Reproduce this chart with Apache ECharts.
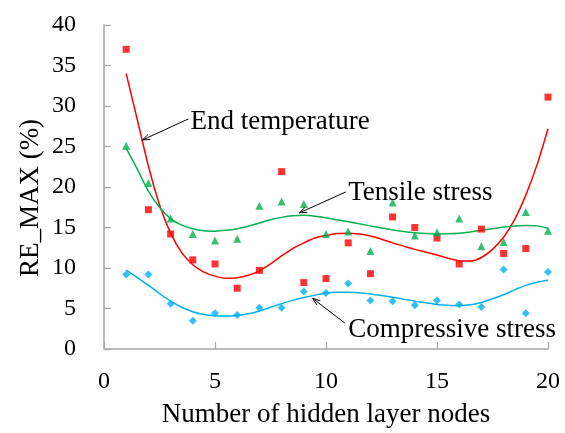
<!DOCTYPE html>
<html>
<head>
<meta charset="utf-8">
<script src="https://cdn.jsdelivr.net/npm/echarts@6/dist/echarts.min.js"></script>
<style>
  html, body { margin: 0; padding: 0; background: #fff; }
  #chart { width: 565px; height: 433px; }
</style>
</head>
<body>
<div id="chart"></div>
<script>
// Hidden-layer node counts (x) and measured RE_MAX (%) for each output
const nodes = [1, 2, 3, 4, 5, 6, 7, 8, 9, 10, 11, 12, 13, 14, 15, 16, 17, 18, 19, 20];
const endTemperature = [37.0, 17.2, 14.2, 11.0, 10.5, 7.5, 9.7, 21.9, 8.2, 8.7, 13.1, 9.3, 16.3, 15.0, 13.7, 10.5, 14.8, 11.8, 12.4, 31.1];
const tensileStress = [25.1, 20.5, 16.1, 14.2, 13.4, 13.6, 17.7, 18.2, 17.9, 14.2, 14.5, 12.1, 18.1, 14.0, 14.4, 16.1, 12.7, 13.2, 16.9, 14.6];
const compressiveStress = [9.2, 9.2, 5.6, 3.5, 4.4, 4.2, 5.1, 5.1, 7.1, 6.9, 8.1, 6.0, 5.9, 5.4, 6.0, 5.5, 5.2, 9.8, 4.4, 9.5];

// Trend curves, sampled every half node from 1 to 20
const trendX = [1, 1.5, 2, 2.5, 3, 3.5, 4, 4.5, 5, 5.5, 6, 6.5, 7, 7.5, 8, 8.5, 9, 9.5, 10, 10.5,
  11, 11.5, 12, 12.5, 13, 13.5, 14, 14.5, 15, 15.5, 16, 16.5, 17, 17.5, 18, 18.5, 19, 19.5, 20];
const trendEnd = [34.0, 28.3, 22.6, 17.8, 14.3, 11.9, 10.4, 9.5, 9.0, 8.75, 8.8, 9.1, 9.65, 10.5, 11.5, 12.4, 13.1, 13.7, 14.0, 14.25,
  14.3, 14.2, 13.95, 13.55, 13.1, 12.7, 12.3, 11.95, 11.6, 11.2, 10.9, 10.85, 11.3, 12.3, 13.8, 16.0, 19.0, 22.7, 27.2];
const trendTensile = [24.8, 22.2, 19.5, 17.5, 16.1, 15.3, 14.85, 14.6, 14.55, 14.65, 14.85, 15.15, 15.55, 15.95, 16.25, 16.45, 16.5, 16.4, 16.2, 15.95,
  15.7, 15.45, 15.2, 14.95, 14.7, 14.5, 14.35, 14.25, 14.2, 14.22, 14.3, 14.45, 14.65, 14.85, 15.05, 15.2, 15.25, 15.2, 14.9];
const trendCompressive = [9.75, 8.8, 7.85, 6.85, 5.9, 5.15, 4.6, 4.25, 4.1, 4.07, 4.15, 4.35, 4.7, 5.15, 5.6, 6.0, 6.35, 6.65, 6.9, 7.0,
  7.0, 6.95, 6.8, 6.6, 6.4, 6.15, 5.9, 5.7, 5.5, 5.4, 5.35, 5.45, 5.75, 6.2, 6.7, 7.3, 7.85, 8.25, 8.5];

// Axis ticks
const xTicks = { min: 0, max: 20, step: 5 };
const yTicks = { min: 0, max: 40, step: 5 };

const RED = '#ff0000', GREEN = '#00b050', BLUE = '#00b0f0';
const FONT = '"Liberation Serif", "Times New Roman", serif';

const pairs = (xs, ys) => xs.map((x, i) => [x, ys[i]]);

const chart = echarts.init(document.getElementById('chart'), null, { renderer: 'canvas' });

const axisCommon = {
  axisLine: { show: true, lineStyle: { color: '#a6a6a6', width: 1.5 } },
  axisTick: { show: true, inside: true, length: 7, lineStyle: { color: '#a6a6a6', width: 1.2 } },
  splitLine: { show: false },
  axisLabel: { color: '#000', fontFamily: FONT, fontSize: 24 }
};

chart.setOption({
  animation: false,
  backgroundColor: '#fff',
  grid: { left: 104, right: 17, top: 25, bottom: 84, containLabel: false },
  xAxis: Object.assign({}, axisCommon, {
    type: 'value', min: xTicks.min, max: xTicks.max, interval: xTicks.step,
    name: 'Number of hidden layer nodes', nameLocation: 'middle', nameGap: 52,
    nameTextStyle: { color: '#000', fontFamily: FONT, fontSize: 27 },
    axisLabel: Object.assign({}, axisCommon.axisLabel, { margin: 21 })
  }),
  yAxis: Object.assign({}, axisCommon, {
    type: 'value', min: yTicks.min, max: yTicks.max, interval: yTicks.step,
    axisLabel: Object.assign({}, axisCommon.axisLabel, { margin: 28 })
  }),
  series: [
    { name: 'End temperature fit', type: 'line', data: pairs(trendX, trendEnd), smooth: 0.3, showSymbol: false,
      lineStyle: { color: RED, width: 1.5 }, z: 2 },
    { name: 'Tensile stress fit', type: 'line', data: pairs(trendX, trendTensile), smooth: 0.3, showSymbol: false,
      lineStyle: { color: GREEN, width: 1.5 }, z: 2 },
    { name: 'Compressive stress fit', type: 'line', data: pairs(trendX, trendCompressive), smooth: 0.3, showSymbol: false,
      lineStyle: { color: BLUE, width: 1.5 }, z: 2 },
    { name: 'End temperature', type: 'scatter', data: pairs(nodes, endTemperature), symbol: 'rect', symbolSize: 7,
      itemStyle: { color: RED }, z: 3 },
    { name: 'Tensile stress', type: 'scatter', data: pairs(nodes, tensileStress), symbol: 'triangle', symbolSize: 8,
      itemStyle: { color: GREEN }, z: 3 },
    { name: 'Compressive stress', type: 'scatter', data: pairs(nodes, compressiveStress), symbol: 'diamond', symbolSize: 8,
      itemStyle: { color: BLUE }, z: 3 }
  ]
});

// Callout labels with arrows, anchored in data space
const callouts = [
  { text: 'End temperature', label: [3.9, 28.0], from: [3.8, 28.4], to: [1.73, 25.8] },
  { text: 'Tensile stress', label: [11.0, 19.3], from: [10.9, 19.4], to: [8.8, 16.8] },
  { text: 'Compressive stress', label: [11.0, 2.4], from: [10.85, 3.2], to: [9.4, 6.25] }
];

function arrowHead(p, q, len, spread) {
  const ang = Math.atan2(q[1] - p[1], q[0] - p[0]);
  const a1 = ang + Math.PI - spread, a2 = ang + Math.PI + spread;
  return [
    [q[0] + len * Math.cos(a1), q[1] + len * Math.sin(a1)],
    q,
    [q[0] + len * Math.cos(a2), q[1] + len * Math.sin(a2)]
  ];
}

const graphics = [];
callouts.forEach(c => {
  const lp = chart.convertToPixel({ gridIndex: 0 }, c.label);
  const p = chart.convertToPixel({ gridIndex: 0 }, c.from);
  const q = chart.convertToPixel({ gridIndex: 0 }, c.to);
  graphics.push({
    type: 'text', x: lp[0], y: lp[1], z: 10,
    style: { text: c.text, fill: '#000', font: '27px ' + FONT, textAlign: 'left', textVerticalAlign: 'middle' }
  });
  graphics.push({
    type: 'line', z: 10, shape: { x1: p[0], y1: p[1], x2: q[0], y2: q[1] },
    style: { stroke: '#000', lineWidth: 1 }
  });
  graphics.push({
    type: 'polyline', z: 10, shape: { points: arrowHead(p, q, 8, 0.35) },
    style: { stroke: '#000', lineWidth: 1, fill: null }
  });
});

// Vertical axis title
graphics.push({
  type: 'text', x: 31, y: 198, rotation: Math.PI / 2, z: 10,
  style: { text: 'RE_MAX (%)', fill: '#000', font: '27px ' + FONT, textAlign: 'center', textVerticalAlign: 'middle' }
});

chart.setOption({ graphic: graphics });
</script>
</body>
</html>
